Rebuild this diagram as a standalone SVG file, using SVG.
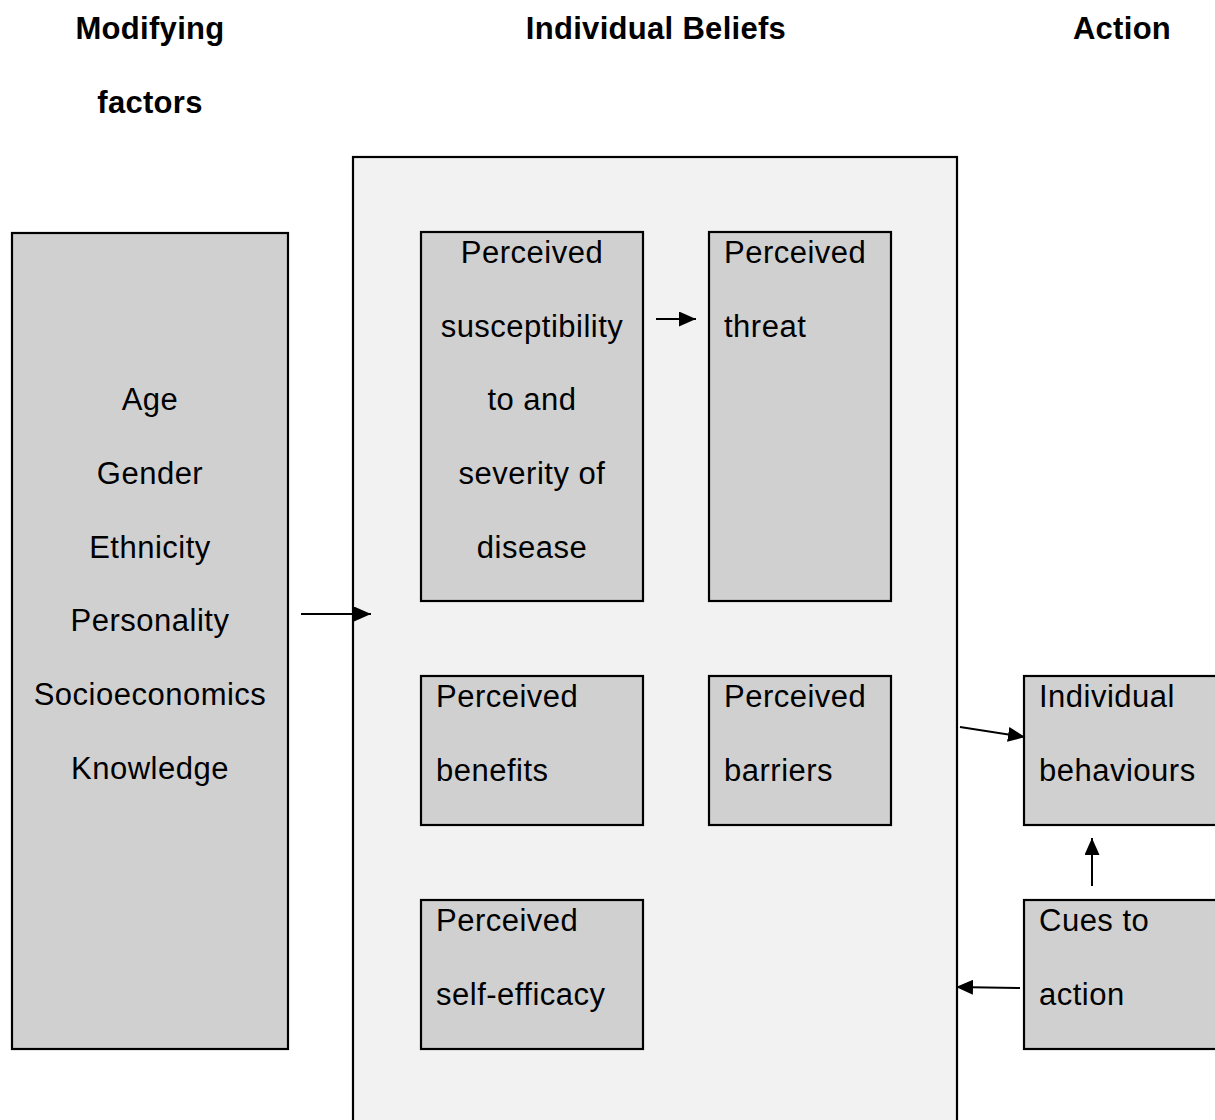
<svg xmlns="http://www.w3.org/2000/svg" width="1215" height="1120" viewBox="0 0 1215 1120">
<style>
.box{fill:#d0d0d0;stroke:#000;stroke-width:2.2}
.outer{fill:#f2f2f2;stroke:#000;stroke-width:2.2}
text{font-family:"Liberation Sans",Arial,sans-serif;font-size:31px;letter-spacing:0.5px;fill:#000}
.h{font-weight:bold;letter-spacing:0.3px;text-anchor:middle}
.c{text-anchor:middle}
.con line{stroke:#000;stroke-width:2}
</style>
<defs>
<marker id="ahb" viewBox="0 0 10 10" refX="10" refY="5" markerWidth="17" markerHeight="15" markerUnits="userSpaceOnUse" orient="auto" preserveAspectRatio="none">
<path d="M0,0 L10,5 L0,10 z" fill="#000"/>
</marker>
</defs>
<rect width="1215" height="1120" fill="#fff"/>
<g id="headers">
<text class="h" x="150" y="39">Modifying</text>
<text class="h" x="150" y="113">factors</text>
<text class="h" x="656" y="39">Individual Beliefs</text>
<text class="h" x="1122" y="39">Action</text>
</g>
<g id="individual-beliefs">
<rect class="outer" x="353" y="157" width="604" height="980"/>
</g>
<g id="modifying-factors">
<rect class="box" x="12" y="233" width="276" height="816"/>
<text class="c" x="150" y="410">Age</text>
<text class="c" x="150" y="484">Gender</text>
<text class="c" x="150" y="558">Ethnicity</text>
<text class="c" x="150" y="631">Personality</text>
<text class="c" x="150" y="705">Socioeconomics</text>
<text class="c" x="150" y="779">Knowledge</text>
</g>
<g id="susceptibility">
<rect class="box" x="421" y="232" width="222" height="369"/>
<text class="c" x="532" y="263">Perceived</text>
<text class="c" x="532" y="337">susceptibility</text>
<text class="c" x="532" y="410">to and</text>
<text class="c" x="532" y="484">severity of</text>
<text class="c" x="532" y="558">disease</text>
</g>
<g id="threat">
<rect class="box" x="709" y="232" width="182" height="369"/>
<text x="724" y="263">Perceived</text>
<text x="724" y="337">threat</text>
</g>
<g id="benefits">
<rect class="box" x="421" y="676" width="222" height="149"/>
<text x="436" y="707">Perceived</text>
<text x="436" y="781">benefits</text>
</g>
<g id="barriers">
<rect class="box" x="709" y="676" width="182" height="149"/>
<text x="724" y="707">Perceived</text>
<text x="724" y="781">barriers</text>
</g>
<g id="self-efficacy">
<rect class="box" x="421" y="900" width="222" height="149"/>
<text x="436" y="931">Perceived</text>
<text x="436" y="1005">self-efficacy</text>
</g>
<g id="behaviours">
<rect class="box" x="1024" y="676" width="220" height="149"/>
<text x="1039" y="707">Individual</text>
<text x="1039" y="781">behaviours</text>
</g>
<g id="cues">
<rect class="box" x="1024" y="900" width="220" height="149"/>
<text x="1039" y="931">Cues to</text>
<text x="1039" y="1005">action</text>
</g>
<g class="con" id="connectors">
<line x1="301" y1="614" x2="371" y2="614" marker-end="url(#ahb)"/>
<line x1="656" y1="319" x2="696" y2="319" marker-end="url(#ahb)"/>
<line x1="960" y1="727" x2="1025" y2="737" marker-end="url(#ahb)"/>
<line x1="1092" y1="886" x2="1092" y2="838" marker-end="url(#ahb)"/>
<line x1="1020" y1="988" x2="956" y2="987" marker-end="url(#ahb)"/>
</g>
</svg>
